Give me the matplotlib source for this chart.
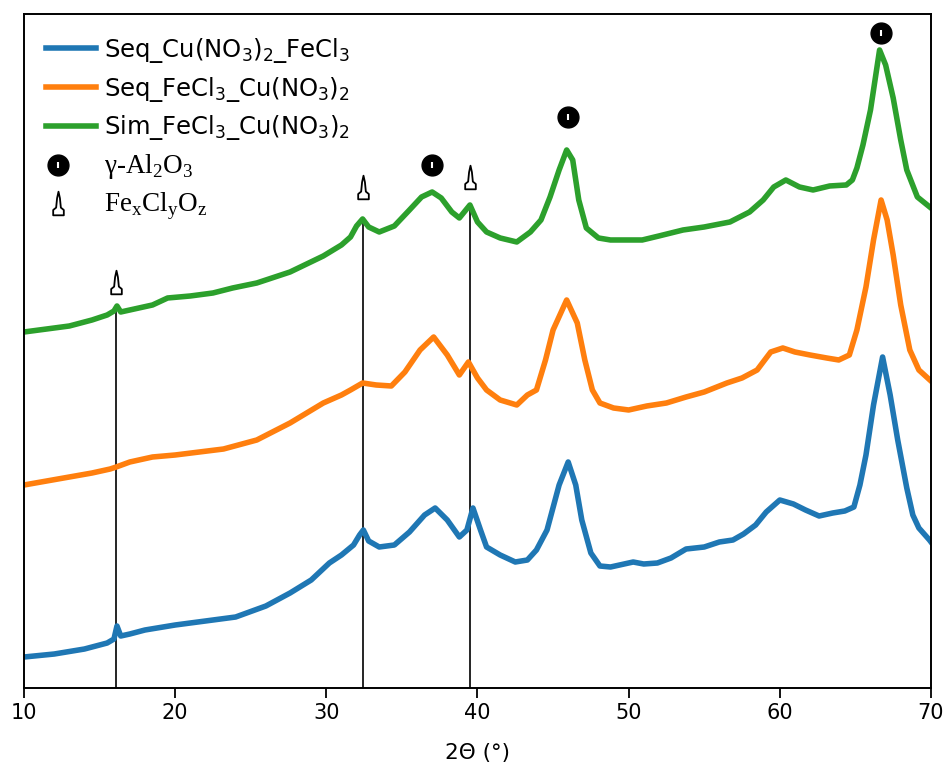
import matplotlib
matplotlib.use("Agg")
import matplotlib.pyplot as plt
import numpy as np
from matplotlib.path import Path
from matplotlib.lines import Line2D
from matplotlib.legend_handler import HandlerTuple, HandlerLine2DCompound

# 2theta (deg) / intensity (a.u.)
tt_blue = [10.0, 12.0, 14.0, 15.5, 15.95, 16.15, 16.4, 17.0, 18.0, 20.0, 22.0, 24.0, 26.0, 27.6,
           29.0, 30.2, 31.0, 31.8, 32.2, 32.45, 32.8, 33.5, 34.5, 35.5, 36.5, 37.2, 38.0, 38.8,
           39.3, 39.7, 40.2, 40.6, 41.5, 42.5, 43.3, 43.9, 44.6, 45.4, 46.0, 46.5, 46.9, 47.5,
           48.1, 48.8, 50.3, 51.0, 51.9, 52.8, 53.8, 55.0, 56.0, 56.9, 57.6, 58.4, 59.1, 60.0,
           60.9, 61.7, 62.6, 63.5, 64.3, 64.9, 65.3, 65.7, 66.2, 66.8, 67.3, 67.8, 68.4, 68.8,
           69.2, 69.9, 70.0]
i_blue = [31, 34, 39, 45, 49, 62, 52, 54, 58, 63, 67, 71, 82, 95,
          108, 125, 133, 143, 153, 158, 147, 141, 143, 156, 173, 180, 168, 151,
          158, 180, 158, 141, 133, 126, 128, 138, 158, 203, 226, 203, 168, 135,
          122, 121, 126, 124, 125, 130, 139, 141, 146, 148, 154, 163, 176, 188,
          184, 178, 172, 175, 177, 181, 203, 233, 283, 331, 293, 248, 200, 173,
          160, 148, 146]

tt_orange = [10.0, 11.5, 13.0, 14.5, 15.7, 16.1, 17.0, 18.5, 20.0, 21.6, 23.2, 25.4, 27.6, 29.8,
             31.0, 31.6, 32.4, 33.3, 34.3, 35.2, 36.2, 37.1, 38.0, 38.8, 39.4, 40.0, 40.6, 41.5,
             42.6, 43.3, 43.9, 44.5, 45.0, 45.9, 46.6, 47.1, 47.6, 48.1, 49.0, 50.0, 51.2, 52.5,
             53.8, 55.0, 56.5, 57.5, 58.5, 59.4, 60.2, 61.0, 62.0, 63.1, 63.9, 64.6, 65.1, 65.7,
             66.2, 66.7, 67.1, 67.5, 68.0, 68.6, 69.2, 70.0]
i_orange = [203, 207, 211, 215, 219, 221, 226, 231, 233, 236, 239, 248, 265, 285,
            293, 298, 305, 303, 302, 316, 338, 351, 333, 313, 326, 310, 298, 288,
            283, 293, 298, 328, 358, 388, 365, 328, 298, 285, 280, 278, 282, 285,
            291, 296, 305, 310, 318, 336, 340, 336, 333, 330, 328, 333, 358, 401,
            448, 488, 468, 433, 383, 338, 318, 307]

tt_green = [10.0, 11.5, 13.0, 14.5, 15.5, 15.95, 16.15, 16.4, 17.0, 18.5, 19.5, 21.0, 22.5, 23.8,
            25.4, 27.6, 29.8, 31.0, 31.6, 32.0, 32.4, 32.8, 33.5, 34.5, 35.5, 36.3, 37.0, 37.6,
            38.3, 38.8, 39.5, 40.0, 40.6, 41.5, 42.6, 43.5, 44.2, 44.8, 45.4, 45.9, 46.3, 46.7,
            47.2, 48.0, 48.8, 50.0, 50.9, 52.0, 53.6, 55.0, 56.7, 58.0, 58.9, 59.6, 60.4, 61.3,
            62.2, 63.3, 64.4, 64.8, 65.1, 65.5, 66.0, 66.6, 67.0, 67.5, 68.0, 68.4, 69.1, 70.0]
i_green = [356, 359, 362, 368, 373, 377, 382, 376, 378, 383, 390, 392, 395, 400,
           405, 416, 432, 443, 451, 462, 469, 461, 456, 462, 478, 491, 496, 490,
           476, 470, 483, 466, 456, 450, 446, 456, 468, 491, 518, 538, 528, 488,
           460, 450, 448, 448, 448, 452, 458, 461, 466, 476, 488, 501, 508, 501,
           498, 502, 503, 508, 520, 543, 578, 638, 623, 590, 548, 518, 491, 480]

labels = ["Seq_Cu(NO$_3$)$_2$_FeCl$_3$",
          "Seq_FeCl$_3$_Cu(NO$_3$)$_2$",
          "Sim_FeCl$_3$_Cu(NO$_3$)$_2$"]
colors = ["#1f77b4", "#ff7f0e", "#2ca02c"]

# phase markers
al2o3_tt = [37.0, 46.0, 66.7]
al2o3_y = [523, 571, 655]
fe_tt = [16.1, 32.4, 39.5]
fe_y = [406, 501, 511]

# narrow "bottle" marker for FexClyOz
bottle = Path([(-0.45, -1.0), (0.45, -1.0), (0.45, -0.55), (0.2, -0.35), (0.12, 0.45),
               (0.0, 1.0), (-0.12, 0.45), (-0.2, -0.35), (-0.45, -0.55), (-0.45, -1.0)],
              [Path.MOVETO] + [Path.LINETO] * 8 + [Path.CLOSEPOLY])


class LeftMarker(HandlerLine2DCompound):
    # put single legend markers near the left of the handle box
    def get_xdata(self, legend, xdescent, ydescent, width, height, fontsize):
        xd, xm = super().get_xdata(legend, xdescent, ydescent, width, height, fontsize)
        return xd, [-xdescent + width * 0.25]


fig = plt.figure(figsize=(9.49, 7.72), dpi=100)
ax = fig.add_axes([0.0253, 0.1088, 0.9557, 0.8731])

h = []
for tt, ii, c, lab in zip([tt_blue, tt_orange, tt_green], [i_blue, i_orange, i_green], colors, labels):
    ln, = ax.plot(tt, ii, color=c, lw=4, label=lab)
    h.append(ln)

# reference lines up to the green pattern
for t in fe_tt:
    top = np.interp(t, tt_green, i_green)
    ax.plot([t, t], [0, top], color="black", lw=1.2, zorder=1)

c1, = ax.plot(al2o3_tt, al2o3_y, ls="none", marker="o", ms=15, mfc="black", mec="black")
c2, = ax.plot(al2o3_tt, al2o3_y, ls="none", marker="|", ms=5, mec="white", mew=1.5)
t1, = ax.plot(fe_tt, fe_y, ls="none", marker=bottle, ms=17, mfc="white", mec="black", mew=1.3)

ax.set_xlim(10, 70)
ax.set_ylim(0, 674)
ax.set_yticks([])
ax.set_xticks(range(10, 71, 10))
ax.tick_params(axis="x", labelsize=15, length=7, width=1.3)
for s in ax.spines.values():
    s.set_linewidth(1.4)
ax.set_xlabel("2Θ (°)", fontsize=15.5, labelpad=15)

leg = ax.legend(h + [(c1, c2), t1],
                labels + [r"γ-Al$_\mathregular{2}$O$_\mathregular{3}$",
                          r"Fe$_\mathregular{x}$Cl$_\mathregular{y}$O$_\mathregular{z}$"],
                handler_map={tuple: HandlerTuple(ndivide=1), Line2D: LeftMarker(numpoints=1)},
                loc="upper left", frameon=False, fontsize=17.5, numpoints=1,
                handlelength=2.05, handletextpad=0.33, labelspacing=0.4,
                borderaxespad=0.5)
for txt in leg.get_texts()[3:]:
    txt.set_family("Liberation Serif")
    txt.set_fontsize(19.5)

fig.savefig("out.png", dpi=100)
